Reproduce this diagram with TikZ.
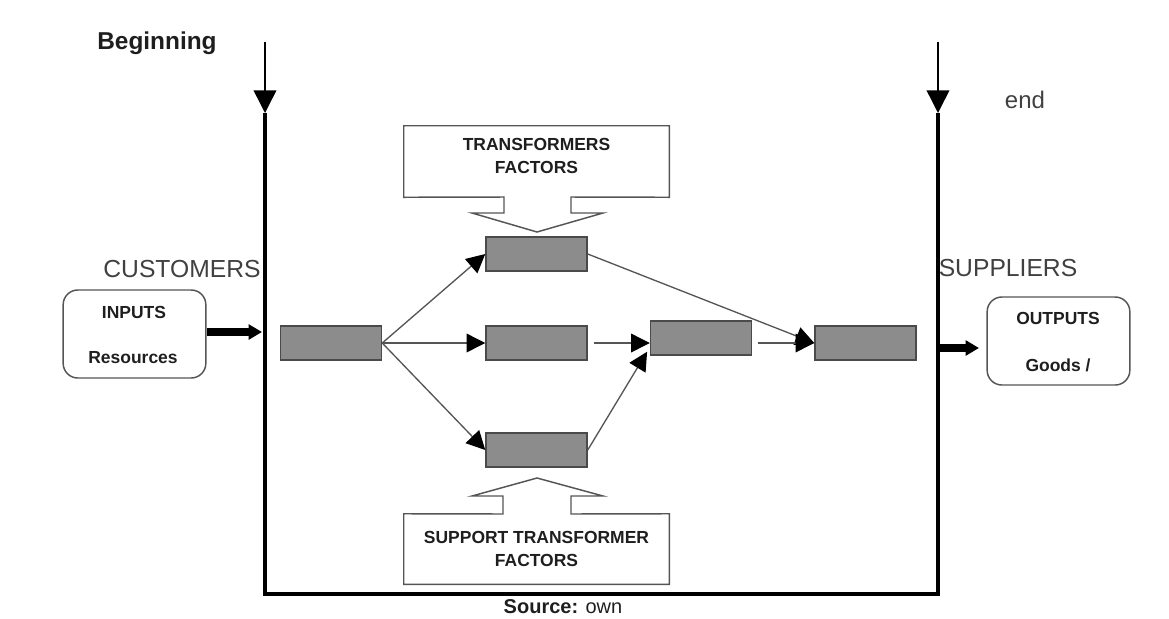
\documentclass[tikz,border=0pt]{standalone}
\usepackage{fontspec}
\setmainfont{Liberation Sans}
\usetikzlibrary{arrows.meta,calc}
\definecolor{txt}{HTML}{1E1E1E}
\definecolor{boxgrey}{HTML}{8C8C8C}
\definecolor{boxedge}{HTML}{4A4A4A}
\definecolor{lin}{HTML}{555555}
\tikzset{
  grey box/.style={draw=boxedge, line width=1.1pt, fill=boxgrey, minimum width=75.75pt, minimum height=25.5pt, inner sep=0pt},
  flow/.style={draw=lin, line width=1pt, -{Triangle[length=14pt,width=14pt,color=black]}},
  small bold/.style={font=\fontsize{13.1}{15}\selectfont\bfseries, text=txt, inner sep=0pt},
  big label/.style={font=\fontsize{18.5}{21}\selectfont, text=txt!85, inner sep=0pt},
  io box/.style={draw=lin, line width=1.1pt, rounded corners=11pt, minimum width=107pt, minimum height=66pt, inner sep=0pt},
  callout/.style={draw=lin, line width=1.1pt, fill=white},
  frame/.style={draw=black, line width=3.2pt},
  thin drop/.style={draw=black, line width=1.1pt, -{Triangle[length=17pt,width=17pt]}},
  fat/.style={draw=black, line width=5.5pt, -{Triangle[length=10pt,width=11pt]}}
}
\begin{document}
\begin{tikzpicture}[x=0.75pt,y=-0.75pt]
\useasboundingbox (0,0) rectangle (1169,618);
% frame
\coordinate (LT) at (265,42);
\coordinate (LB) at (265,113);
\coordinate (RT) at (938,42);
\coordinate (RB) at (938,113);
\coordinate (BL) at (265,594);
\coordinate (BR) at (938,594);
\draw[thin drop] (LT) -- (LB);
\draw[thin drop] (RT) -- (RB);
\draw[frame, line join=miter] (LB) -- (BL) -- (BR) -- (RB);
% labels
\node[big label, font=\fontsize{18.3}{21}\selectfont\bfseries, text=txt] (beg) at (157,43) {Beginning};
\node[big label, font=\fontsize{18}{21}\selectfont] (end) at (1025,100) {end};
\node[big label] (cust) at (182,269) {CUSTOMERS};
\node[big label] (supp) at (1008,268) {SUPPLIERS};
\node[inner sep=0pt, text=txt, font=\fontsize{15}{18}\selectfont] (src) at (563,607) {\textbf{Source:} own};
% io boxes
\node[io box] (in) at (134.5,334) {};
\node[small bold] (inT) at (134,312) {INPUTS};
\node[small bold] (inR) at (133,358) {Resources};
\node[io box] (out) at (1058.5,341) {};
\node[small bold] (outT) at (1058,318) {OUTPUTS};
\node[small bold] (outG) at (1058,365) {Goods /};
\coordinate (inArr) at (262,332);
\coordinate (outArr) at (938,348);
\coordinate (outEnd) at (979,348);
\draw[fat] (in.east |- inArr) -- (inArr);
\draw[fat] (outArr) -- (outEnd);
% callouts
\node[minimum width=198.75pt, minimum height=53.25pt, inner sep=0pt] (TF) at (536.5,161.5) {};
\draw[callout] (TF.north west) -- (TF.north east) -- (TF.south east) -- (571,197) -- (571,213) -- (603,213) -- (537,232) -- (472,213) -- (504,213) -- (504,197) -- (TF.south west) -- cycle;
\node[small bold, align=center] (TFt) at (536.5,156) {TRANSFORMERS\\[2pt]FACTORS};
\node[minimum width=198.75pt, minimum height=52.5pt, inner sep=0pt] (SF) at (536.5,549) {};
\draw[callout] (SF.north west) -- (503,514) -- (503,496) -- (472,496) -- (537,478) -- (603,496) -- (571,496) -- (571,514) -- (SF.north east) -- (SF.south east) -- (SF.south west) -- cycle;
\node[small bold, align=center] (SFt) at (536.5,549) {SUPPORT TRANSFORMER\\[2pt]FACTORS};
% grey boxes
\node[grey box] (A) at (331,343) {};
\node[grey box] (B) at (536.5,254) {};
\node[grey box] (C) at (536.5,343) {};
\node[grey box] (D) at (536.5,450) {};
\node[grey box] (E) at (701,338) {};
\node[grey box] (F) at (865.5,343) {};
% connectors
\draw[flow] (A.east) -- (B.west);
\draw[flow] (A.east) -- (C.west);
\draw[flow] (A.east) -- (D.west);
\draw[flow] ([xshift=4.5pt]C.east) -- (C.east -| E.west);
\draw[flow] (D.east) -- ([xshift=-2pt,yshift=3pt]E.south west);
\draw[flow] (B.east) -- (F.west);
\draw[flow] ([xshift=4pt]E.east |- F.west) -- (F.west);
\end{tikzpicture}
\end{document}
